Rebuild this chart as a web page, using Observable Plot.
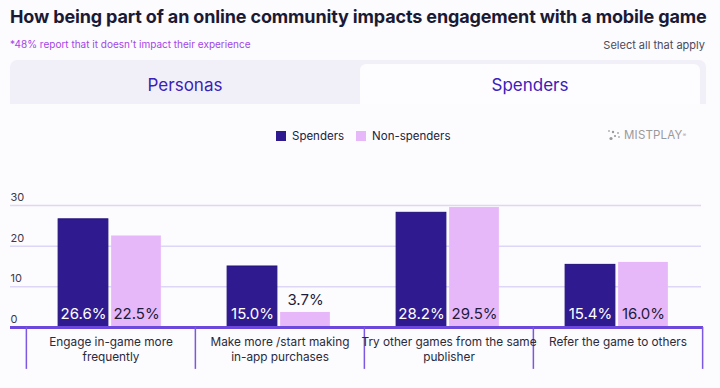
<!DOCTYPE html>
<html>
<head>
<meta charset="utf-8">
<script src="https://cdn.jsdelivr.net/npm/d3@7"></script>
<script src="https://cdn.jsdelivr.net/npm/@observablehq/plot@0.6"></script>
<style>
  html, body { margin: 0; padding: 0; background: #fcfbfe; }
  body { width: 720px; height: 388px; position: relative; overflow: hidden; font-family: Inter, "Noto Sans", sans-serif; }
  .abs { position: absolute; white-space: nowrap; }
  #title { left: 10px; top: 6px; font-size: 18px; font-weight: 700; color: #1b1a35; letter-spacing: -0.15px; }
  #subtitle { left: 10px; top: 38px; font-size: 10px; color: #a346e6; }
  #select { right: 15px; top: 38px; font-size: 11px; color: #4a4a5c; }
  #tabs { left: 10px; top: 60px; width: 696px; height: 44px; background: #f1f0f9; border-radius: 7px 7px 0 0; }
  #tab2 { left: 360px; top: 64px; width: 340px; height: 40px; background: #fdfcff; border-radius: 6px 6px 0 0; }
  .tabtxt { font-size: 17px; color: #3a21b8; transform: translateX(-50%); top: 75px; }
  #legend { left: 276px; top: 129px; font-size: 11.5px; color: #23223a; display: flex; align-items: center; }
  .sw { width: 10px; height: 10px; display: inline-block; margin-right: 6px; }
  #logo { left: 607px; top: 128px; font-size: 11.5px; color: #9a9a9a; display: flex; align-items: center; letter-spacing: 0.2px; }
  #chart { left: 0; top: 180px; }
</style>
</head>
<body>
<div id="title" class="abs">How being part of an online community impacts engagement with a mobile game</div>
<div id="subtitle" class="abs">*48% report that it doesn't impact their experience</div>
<div id="select" class="abs">Select all that apply</div>
<div id="tabs" class="abs"></div>
<div id="tab2" class="abs"></div>
<div class="abs tabtxt" style="left:185px">Personas</div>
<div class="abs tabtxt" style="left:530px">Spenders</div>
<div id="legend" class="abs"></div>
<div id="logo" class="abs"><svg width="14" height="12" style="margin-right:3px"><circle cx="2" cy="2" r="0.9" fill="#aaa"/><circle cx="6" cy="3" r="1.2" fill="#999"/><circle cx="11" cy="4" r="1" fill="#aaa"/><circle cx="8" cy="7" r="1.1" fill="#999"/><circle cx="4" cy="9.5" r="1.6" fill="#999"/><circle cx="12" cy="8" r="0.9" fill="#aaa"/></svg>MISTPLAY<sup style="font-size:5px">®</sup></div>
<div id="chart" class="abs"></div>
<script>
const categories = [
  "Engage in-game more\nfrequently",
  "Make more /start making\nin-app purchases",
  "Try other games from the same\npublisher",
  "Refer the game to others"
];
const seriesNames = ["Spenders", "Non-spenders"];
const spenders = [26.6, 15.0, 28.2, 15.4];
const nonSpenders = [22.5, 3.7, 29.5, 16.0];
const yTicks = [0, 10, 20, 30];

const colors = { Spenders: "#2f1b8f", "Non-spenders": "#e7b8f9" };

// legend
const legend = document.getElementById("legend");
seriesNames.forEach((s, i) => {
  const item = document.createElement("span");
  item.style.display = "flex";
  item.style.alignItems = "center";
  item.style.marginRight = "12px";
  item.innerHTML = `<span class="sw" style="background:${colors[s]}"></span>${s}`;
  legend.appendChild(item);
});

const rows = categories.map((c, i) => ({ category: c, spenders: spenders[i], nonSpenders: nonSpenders[i] }));

const xRange = [25, 702];
const bw = (xRange[1] - xRange[0]) / categories.length;
const barW = 50, gap = 3;
const insideMin = 8;
const sepDepth = -10.3;

const chart = Plot.plot({
  width: 720,
  height: 208,
  marginLeft: 10,
  marginRight: 19,
  marginTop: 25,
  marginBottom: 61,
  x: { domain: categories, range: xRange, padding: 0, axis: null },
  y: { domain: [0, 30], axis: null },
  style: { background: "transparent", fontFamily: "Inter, 'Noto Sans', sans-serif" },
  marks: [
    Plot.ruleY([10, 20, 30], { stroke: "#ddd6f6", strokeWidth: 1.5 }),
    Plot.text(yTicks, { y: d => d, text: d => String(d), frameAnchor: "left", textAnchor: "start", dy: -8, fontSize: 11, fill: "#3a3a48" }),
    Plot.barY(rows, { x: "category", y: "spenders", fill: colors.Spenders, stroke: "#22107a", strokeWidth: 1,
      insetLeft: bw / 2 - gap / 2 - barW - 1, insetRight: bw / 2 + gap / 2 + 1 }),
    Plot.barY(rows, { x: "category", y: "nonSpenders", fill: colors["Non-spenders"],
      insetLeft: bw / 2 + gap / 2 - 1, insetRight: bw / 2 - gap / 2 - barW + 1 }),
    Plot.ruleY([0], { stroke: "#6c48dc", strokeWidth: 3, insetRight: -2 }),
    Plot.ruleX(categories, { x: d => d, y1: 0, y2: sepDepth, dx: -bw / 2, stroke: "#7b57e2", strokeWidth: 1.5 }),
    Plot.ruleX([categories[categories.length - 1]], { x: d => d, y1: 0, y2: sepDepth, dx: bw / 2, stroke: "#7b57e2", strokeWidth: 1.5 }),
    Plot.text(rows, { x: "category", y: 0, text: d => d.spenders.toFixed(1) + "%", dx: -(gap / 2 + barW / 2) - 1, dy: -13, fill: "white", fontSize: 15 }),
    Plot.text(rows.filter(d => d.nonSpenders >= insideMin), { x: "category", y: 0, text: d => d.nonSpenders.toFixed(1) + "%", dx: gap / 2 + barW / 2 - 1, dy: -13, fill: "#1e1c3a", fontSize: 15 }),
    Plot.text(rows.filter(d => d.nonSpenders < insideMin), { x: "category", y: "nonSpenders", text: d => d.nonSpenders.toFixed(1) + "%", dx: gap / 2 + barW / 2 - 1, dy: -12, fill: "#1e1c3a", fontSize: 15 }),
    Plot.text(rows, { x: "category", y: 0, text: "category", lineAnchor: "top", dy: 8, fontSize: 11.8, lineHeight: 1.24, fill: "#2a2a3a" })
  ]
});
document.getElementById("chart").appendChild(chart);
</script>
</body>
</html>
